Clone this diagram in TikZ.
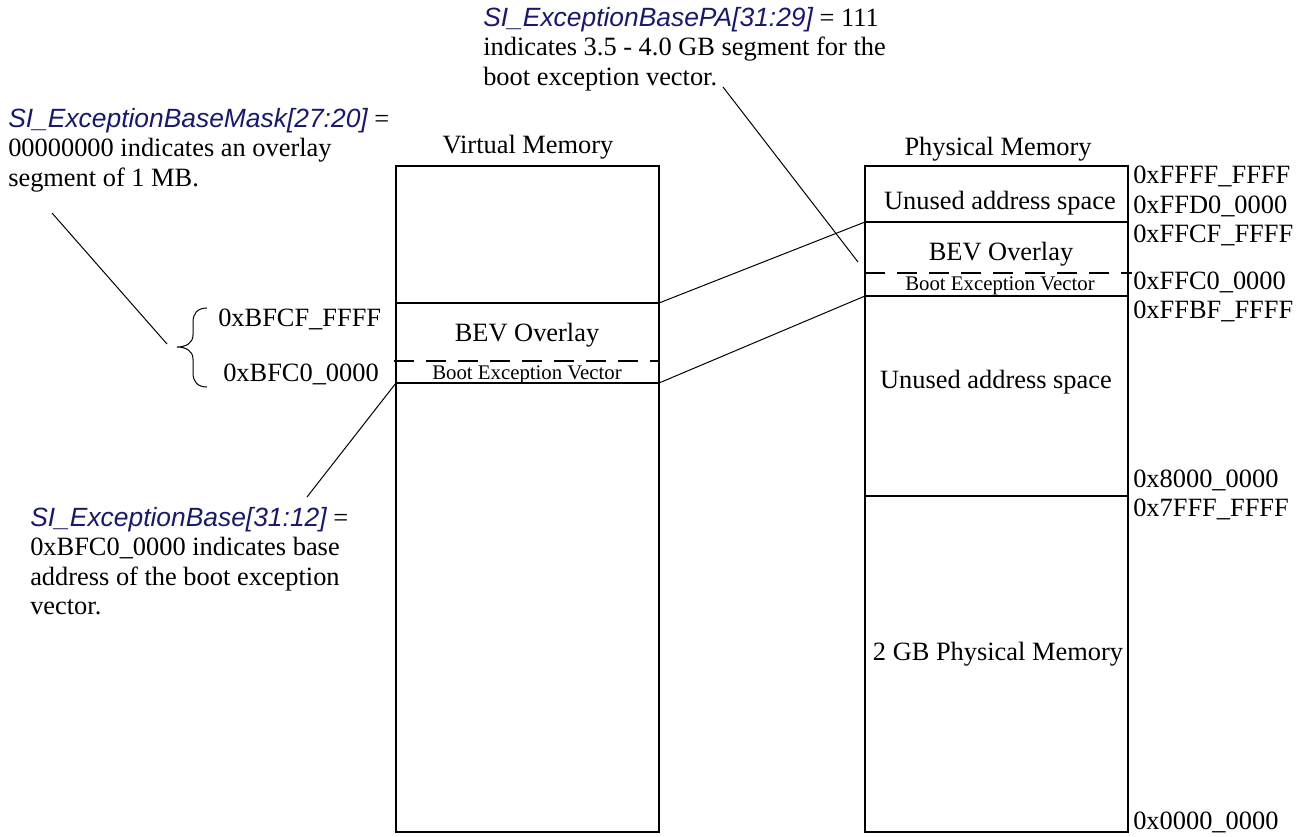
\documentclass[tikz,border=0pt]{standalone}
\usepackage{fontspec}
\setmainfont{Liberation Serif}
\newfontfamily\sifont{Liberation Sans}
\definecolor{sinavy}{RGB}{24,24,110}
\newcommand{\SIname}[1]{{\sifont\itshape\color{sinavy}#1}}
\tikzset{
  boxline/.style={line width=1.5pt},
  dashline/.style={line width=1.5pt, dash pattern=on 15pt off 9pt},
  conn/.style={line width=0.75pt},
  txt/.style={inner sep=0pt, anchor=base west},
  ctxt/.style={inner sep=0pt, anchor=base},
  small/.style={font=\fontsize{15.6}{18}\selectfont},
  para/.style={inner sep=0pt, anchor=north west, align=left, font=\fontsize{19.8}{22}\selectfont},
}
\begin{document}
\begin{tikzpicture}[x=0.75pt,y=-0.75pt,font=\fontsize{19.8}{22}\selectfont]
\useasboundingbox (0,0) rectangle (1304,836);
% ---- virtual memory column
\coordinate (vtl) at (396,166);
\coordinate (vbr) at (659,832);
\coordinate (vbevL) at (396,303);
\coordinate (vbevR) at (659,303);
\coordinate (vdashL) at (394,361);
\coordinate (vdashR) at (659,361);
\coordinate (vvecL) at (396,383);
\coordinate (vvecR) at (659,383);
\draw[boxline] (vtl) rectangle (vbr);
\draw[boxline] (vbevL) -- (vbevR);
\draw[boxline] (vvecL) -- (vvecR);
\draw[dashline] (vdashL) -- (vdashR);
\node[ctxt] (vtitle) at (528,153) {Virtual Memory};
\node[ctxt] (vbev) at (527,341) {BEV Overlay};
\node[ctxt,small] (vvec) at (527,379) {Boot Exception Vector};
% ---- physical memory column
\coordinate (ptl) at (865,166);
\coordinate (pbr) at (1128,832);
\coordinate (pbevL) at (865,222);
\coordinate (pbevR) at (1128,222);
\coordinate (pdashL) at (865,273);
\coordinate (pdashR) at (1132,273);
\coordinate (pvecL) at (865,296);
\coordinate (pvecR) at (1128,296);
\coordinate (p2gL) at (865,496);
\coordinate (p2gR) at (1128,496);
\draw[boxline] (ptl) rectangle (pbr);
\draw[boxline] (pbevL) -- (pbevR);
\draw[boxline] (pvecL) -- (pvecR);
\draw[boxline] (p2gL) -- (p2gR);
\draw[dashline] (pdashL) -- (pdashR);
\node[ctxt] (ptitle) at (998,155) {Physical Memory};
\node[ctxt] (punused1) at (1000,209) {Unused address space};
\node[ctxt] (pbev) at (1001,260) {BEV Overlay};
\node[ctxt,small] (pvec) at (1000,290) {Boot Exception Vector};
\node[ctxt] (punused2) at (996,388) {Unused address space};
\node[ctxt] (p2g) at (998,660) {2 GB Physical Memory};
% ---- physical addresses
\node[txt] (a1) at (1133,183) {0xFFFF\_FFFF};
\node[txt] (a2) at (1133,213) {0xFFD0\_0000};
\node[txt] (a3) at (1133,242) {0xFFCF\_FFFF};
\node[txt] (a4) at (1133,289) {0xFFC0\_0000};
\node[txt] (a5) at (1133,318) {0xFFBF\_FFFF};
\node[txt] (a6) at (1133,487) {0x8000\_0000};
\node[txt] (a7) at (1133,516) {0x7FFF\_FFFF};
\node[txt] (a8) at (1133,829) {0x0000\_0000};
% ---- virtual addresses and brace
\node[txt] (b1) at (218,326) {0xBFCF\_FFFF};
\node[txt] (b2) at (223,381) {0xBFC0\_0000};
\coordinate (bracetip) at (177,347);
\draw[conn] (207,308) .. controls (197,308) and (193,314) .. (193,322) -- (193,335)
  .. controls (193,343) and (186,347) .. (bracetip)
  .. controls (186,347) and (193,351) .. (193,359) -- (193,373)
  .. controls (193,381) and (197,387) .. (207,387);
% ---- mapping connectors
\draw[conn] (vbevR) -- (pbevL);
\draw[conn] (vvecR) -- (pvecL);
% ---- annotations
\node[para] (notePA) at (483,7) {\SIname{SI\_ExceptionBasePA[31:29]} = 111\\indicates 3.5 - 4.0 GB segment for the\\boot exception vector.};
\coordinate (notePAend) at (723,87);
\coordinate (notePAtip) at (858,262);
\draw[conn] (notePAend) -- (notePAtip);
\node[para] (noteMask) at (8,108) {\SIname{SI\_ExceptionBaseMask[27:20]} =\\00000000 indicates an overlay\\segment of 1 MB.};
\coordinate (noteMaskend) at (52,213);
\coordinate (noteMasktip) at (167,344);
\draw[conn] (noteMaskend) -- (noteMasktip);
\node[para] (noteBase) at (30,507) {\SIname{SI\_ExceptionBase[31:12]} =\\0xBFC0\_0000 indicates base\\address of the boot exception\\vector.};
\coordinate (noteBasetip) at (307,497);
\draw[conn] (vvecL) -- (noteBasetip);
\end{tikzpicture}
\end{document}
